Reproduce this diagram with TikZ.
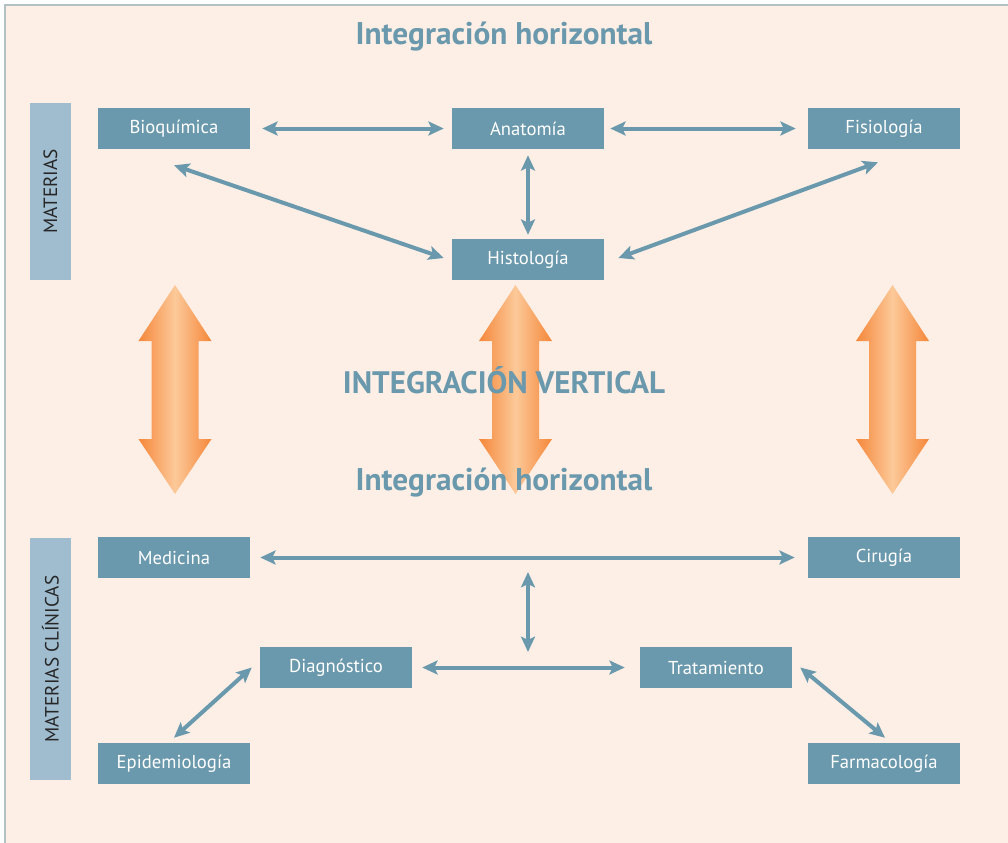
\documentclass[tikz,border=0pt]{standalone}
\usepackage{fontspec}
\setmainfont{PT Sans}
\usetikzlibrary{arrows.meta, calc}
\definecolor{cpeach}{HTML}{FDEFE5}
\definecolor{cteal}{HTML}{6A98AC}
\definecolor{cside}{HTML}{A0BDD0}
\definecolor{cframe}{HTML}{B3C1C7}
\definecolor{corange}{HTML}{F5873A}
\definecolor{clight}{HTML}{FCC999}
\tikzset{
  box/.style={fill=cteal, text=white, minimum width=114pt, minimum height=30.75pt, inner sep=0pt, font=\fontsize{14}{16}\selectfont},
  side/.style={fill=cside, minimum height=30.75pt, inner sep=0pt, rotate=90, font=\fontsize{14.4}{16}\selectfont, text=black!85},
  link/.style={{Stealth[length=11.5pt, width=10.5pt, inset=2.5pt]}-{Stealth[length=11.5pt, width=10.5pt, inset=2.5pt]}, draw=cteal, line width=3pt},
  title/.style={font=\bfseries\fontsize{23.5}{27}\selectfont, text=cteal},
}
\begin{document}
\begin{tikzpicture}[x=0.75pt, y=-0.75pt]
  \useasboundingbox (0,0) rectangle (1008,843);
  \fill[cpeach] (5,5) rectangle (1008,843);
  \draw[cframe, line width=1.5pt] (5,843) -- (5,5) -- (1008,5);
  % side bars
  \node[side, minimum width=133pt] (mat) at (50.5,191.5) {MATERIAS};
  \node[side, minimum width=181.5pt] (matcl) at (50.5,659) {MATERIAS CLÍNICAS};
  % vertical integration arrows
  \foreach \cx in {175, 515.5, 892.5} {
    \shade[left color=corange, right color=corange, middle color=clight]
      (\cx,285) -- (\cx+36.5,341) -- (\cx+23.5,341) -- (\cx+23.5,439) -- (\cx+36.5,439)
      -- (\cx,494) -- (\cx-36.5,439) -- (\cx-23.5,439) -- (\cx-23.5,341) -- (\cx-36.5,341) -- cycle;
  }
  \node[title] (t1) at (504,37) {Integración horizontal};
  \node[title, font=\bfseries\fontsize{23.3}{27}\selectfont] (tv) at (504,380) {INTEGRACIÓN VERTICAL};
  \node[title] (t2) at (504,483) {Integración horizontal};
  % subjects
  \foreach \n/\x/\y/\t in {bioq/174/128.5/Bioquímica, anat/528/128.5/Anatomía, fisi/884/128.5/Fisiología,
    hist/528/259.5/Histología, medi/174/557.5/Medicina, ciru/884/557.5/Cirugía,
    diag/336/667.5/Diagnóstico, trat/716/667.5/Tratamiento, epid/174/763.5/Epidemiología, farm/884/763.5/Farmacología}
    \node[box] (\n) at (\x,\y) {\t};
  \coordinate (vtop) at (528,572);
  \coordinate (vbot) at (528,652);
  \draw[link] ($(bioq.east)+(12,0)$) -- ($(anat.west)+(-8,0)$);
  \draw[link] ($(anat.east)+(6,0)$) -- ($(fisi.west)+(-12,0)$);
  \draw[link] ($(anat.south)+(0,6)$) -- ($(hist.north)+(0,-4)$);
  \draw[link] ($(bioq.south)+(0,16)$) -- ($(hist.west)+(-8,-1.5)$);
  \draw[link] ($(fisi.south)+(-6,13)$) -- ($(hist.east)+(14,-1.5)$);
  \draw[link] ($(medi.east)+(10,0)$) -- ($(ciru.west)+(-13,0)$);
  \draw[link] (vtop) -- (vbot);
  \draw[link] ($(diag.east)+(10,0)$) -- ($(trat.west)+(-15,0)$);
  \draw[link] ($(diag.west)+(-8,0)$) -- ($(epid.north)+(0,-5)$);
  \draw[link] ($(trat.east)+(8,0)$) -- ($(farm.north)+(1,-5)$);
\end{tikzpicture}
\end{document}
